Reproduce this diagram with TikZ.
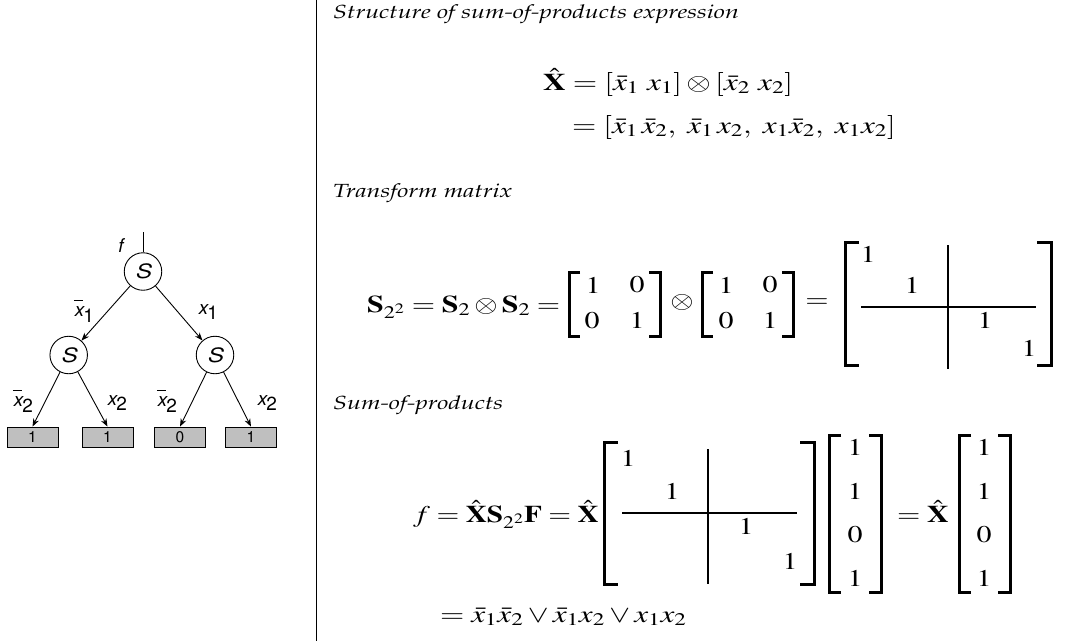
\documentclass[tikz,border=0pt]{standalone}
\usepackage[T1]{fontenc}
\usepackage{mathptmx}
\usetikzlibrary{arrows.meta}
\newcommand\hdfont{\fontfamily{ppl}\fontsize{19}{22}\selectfont\itshape}
\newcommand\trfont{\fontfamily{phv}\selectfont}
\newcommand\mathsz{\fontsize{24}{29}\selectfont}
\newcommand\sx[2]{\scalebox{#1}[1]{#2}}
\newcommand\en[1]{\scalebox{1.25}[1]{$#1$}}
\newcommand\xb[1]{$\overline{\mbox{\vphantom{k}\itshape x}}$\raisebox{-0.3em}{#1}}
\newcommand\xn[1]{{\itshape x}\raisebox{-0.3em}{#1}}
\newcommand\lbrk[4]{\draw[brk] (#1+#4,#2) -- (#1,#2) -- (#1,#3) -- (#1+#4,#3);}
\newcommand\rbrk[4]{\draw[brk] (#1-#4,#2) -- (#1,#2) -- (#1,#3) -- (#1-#4,#3);}
\begin{document}
\begin{tikzpicture}[x=1pt,y=-1pt,
  snode/.style={circle,draw,line width=0.9pt,minimum size=37.5pt,inner sep=0pt,font=\trfont\fontsize{20}{22}\selectfont\itshape},
  leaf/.style={draw,line width=0.8pt,fill=black!25,minimum width=51pt,minimum height=20pt,inner sep=0pt,font=\trfont\fontsize{15.5}{17}\selectfont},
  lbl/.style={inner sep=0pt,font=\trfont\fontsize{19}{21}\selectfont},
  arr/.style={line width=0.9pt,-{Stealth[length=8pt,width=6pt]}},
  tline/.style={line width=0.9pt},
  hd/.style={inner sep=0pt,font=\hdfont},
  eq/.style={inner sep=0pt,font=\mathsz},
  brk/.style={line width=3pt,line join=miter,line cap=butt},
  sep/.style={line width=1.8pt}]
\useasboundingbox (0,0) rectangle (1067,641);
% separator
\draw[line width=1pt] (316,0) -- (316,641);
% ---------------- tree
\node[snode] (root) at (143,271.5) {\sx{1.2}{S}};
\node[snode] (nl) at (68.7,355) {\sx{1.2}{S}};
\node[snode] (nr) at (215,355) {\sx{1.2}{S}};
\coordinate (ftop) at (143,232);
\draw[tline] (ftop) -- (root);
\node[lbl] (flab) at (120,246) {\itshape f};
\node[leaf] (b1) at (32.5,437) {1};
\node[leaf] (b2) at (107.5,437) {1};
\node[leaf] (b3) at (180,437) {0};
\node[leaf] (b4) at (251,437) {1};
\draw[arr] (root) -- (nl);
\draw[arr] (root) -- (nr);
\draw[arr] (nl) -- (b1.north);
\draw[arr] (nl) -- (b2.north);
\draw[arr] (nr) -- (b3.north);
\draw[arr] (nr) -- (b4.north);
\node[lbl] (l1) at (84,311) {\xb{1}};
\node[lbl] (l2) at (208,312) {\xn{1}};
\node[lbl] (l3) at (23,401) {\xb{2}};
\node[lbl] (l4) at (117,403) {\xn{2}};
\node[lbl] (l5) at (167,401) {\xb{2}};
\node[lbl] (l6) at (267,403) {\xn{2}};
% ---------------- headings
\node[hd,anchor=base west] (h1) at (333,18) {\sx{1.32}{Structure of sum-of-products expression}};
\node[hd,anchor=base west] (h2) at (333,197) {\sx{1.32}{Transform matrix}};
\node[hd,anchor=base west] (h3) at (333,409) {\sx{1.32}{Sum-of-products}};
% ---------------- X hat
\node[eq,anchor=base west] (e1) at (543,90) {\sx{1.31}{$\hat{\mathbf X} = [\bar{x}_1\ x_1]\otimes[\bar{x}_2\ x_2]$}};
\node[eq,anchor=base west] (e2) at (572,133) {\sx{1.3}{$= [\bar x_1\,\bar x_2,\ \bar x_1\,x_2,\ x_1\bar x_2,\ x_1x_2]$}};
% ---------------- S equation
\node[eq,anchor=base west] (se) at (367,312) {\sx{1.25}{$\mathbf S_{2^2} = \mathbf S_2\otimes\mathbf S_2 =$}};
\lbrk{569}{272}{336}{11}
\rbrk{660}{272}{336}{11}
\node[eq] (a11) at (593,285) {\en{1}};
\node[eq] (a12) at (637,285) {\en{0}};
\node[eq] (a21) at (592,320.5) {\en{0}};
\node[eq] (a22) at (637,320.5) {\en{1}};
\node[eq] (ot1) at (682,302) {\en{\otimes}};
\lbrk{702}{272}{336}{11}
\rbrk{793}{272}{336}{11}
\node[eq] (b11) at (726,285) {\en{1}};
\node[eq] (b12) at (770,285) {\en{0}};
\node[eq] (b21) at (726,320.5) {\en{0}};
\node[eq] (b22) at (770,320.5) {\en{1}};
\node[eq] (eq3) at (817,303) {\en{=}};
\lbrk{845}{242}{365}{14}
\rbrk{1051}{242}{365}{14}
\node[eq] (c1) at (868,254) {\en{1}};
\node[eq] (c2) at (912,285) {\en{1}};
\node[eq] (c3) at (985,320) {\en{1}};
\node[eq] (c4) at (1029,348) {\en{1}};
\coordinate (ch1) at (861,307);
\coordinate (ch2) at (1036,307);
\coordinate (cv1) at (948,245);
\coordinate (cv2) at (948,369);
\draw[sep] (ch1) -- (ch2);
\draw[sep] (cv1) -- (cv2);
% ---------------- sum of products
\node[eq,anchor=base west] (fe) at (413,522) {\sx{1.22}{$f = \hat{\mathbf X}\mathbf S_{2^2}\mathbf F = \hat{\mathbf X}$}};
\lbrk{604}{442}{584}{14}
\rbrk{814}{442}{584}{14}
\node[eq] (d1) at (628,458) {\en{1}};
\node[eq] (d2) at (672,491) {\en{1}};
\node[eq] (d3) at (746,526) {\en{1}};
\node[eq] (d4) at (790,561) {\en{1}};
\coordinate (dh1) at (622,513);
\coordinate (dh2) at (797,513);
\coordinate (dv1) at (708,449);
\coordinate (dv2) at (708,584);
\draw[sep] (dh1) -- (dh2);
\draw[sep] (dv1) -- (dv2);
\lbrk{829}{435}{592}{12}
\rbrk{881}{435}{592}{12}
\node[eq] (f1) at (855,447) {\en{1}};
\node[eq] (f2) at (855,491) {\en{1}};
\node[eq] (f3) at (855,535) {\en{0}};
\node[eq] (f4) at (855,578) {\en{1}};
\node[eq,anchor=base west] (fe2) at (897,522) {\sx{1.25}{$= \hat{\mathbf X}$}};
\lbrk{959}{435}{592}{12}
\rbrk{1010}{435}{592}{12}
\node[eq] (g1) at (984,447) {\en{1}};
\node[eq] (g2) at (984,491) {\en{1}};
\node[eq] (g3) at (984,535) {\en{0}};
\node[eq] (g4) at (984,578) {\en{1}};
\node[eq,anchor=base west] (fl) at (440,622) {\sx{1.3}{$= \bar x_1\bar x_2 \vee \bar x_1 x_2 \vee x_1 x_2$}};
\end{tikzpicture}
\end{document}
